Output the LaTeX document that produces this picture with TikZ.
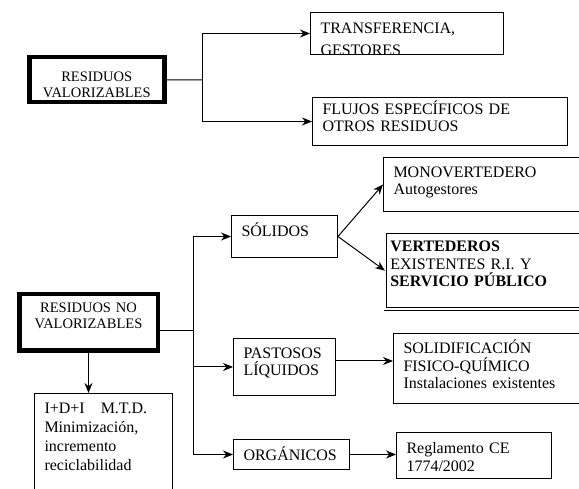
\documentclass[tikz,border=0pt]{standalone}
\usepackage{fontspec}
\setmainfont{Liberation Serif}
\usetikzlibrary{positioning,arrows.meta}

\begin{document}
\begin{tikzpicture}[x=1pt,y=-1pt,
    box/.style={draw, line width=1pt, anchor=north west, align=left,
      inner xsep=10pt, inner ysep=0pt, font=\fontsize{16}{17.5}\selectfont},
    mainbox/.style={draw, line width=4.5pt, anchor=north west, align=center,
      inner xsep=4pt, inner ysep=0pt, font=\fontsize{14.5}{16}\selectfont},
    link/.style={line width=1pt},
    arr/.style={line width=1pt, -{Stealth[length=10pt,width=8pt]}}]
    \useasboundingbox (0,0) rectangle (579,489);
    \clip (0,0) rectangle (579,489);

    % upper branch
    \node[mainbox, text width=127pt, text height=24.5pt, text depth=20.5pt] (val) at (27,55) {RESIDUOS\\ VALORIZABLES};
    \node[box, text width=173pt, text height=21pt, text depth=21pt] (tra) at (310,12) {TRANSFERENCIA,\\[5pt] GESTORES};
    \fill[white] (tra.south west) rectangle ([yshift=-8pt]tra.south east);
    \draw[link] (tra.south west) -- (tra.south east);
    \node[box, text width=235pt, text height=17pt, text depth=31pt] (flu) at (312,97) {FLUJOS ESPECÍFICOS DE\\ OTROS RESIDUOS};

    \coordinate (vsplit) at (202,80);
    \draw[link] (val.east) -- (vsplit);
    \draw[arr] (vsplit) |- (tra.west);
    \draw[arr] (vsplit) |- (flu.west);

    % lower branch
    \node[mainbox, text width=130.5pt, text height=18.75pt, text depth=37.75pt] (nval) at (17,292) {RESIDUOS NO\\ VALORIZABLES};
    \node[box, text width=86pt, text height=21pt, text depth=21pt] (sol) at (231,215) {SÓLIDOS};
    \node[box, text width=185pt, text height=20pt, text depth=34pt] (mon) at (383,157) {MONOVERTEDERO\\ Autogestores};
    \node[box, double, double distance=2pt, line width=0.6pt, inner xsep=5pt, text width=190pt, text height=19.4pt, text depth=57.4pt] (ver) at (385,232) {\textbf{VERTEDEROS}\\ EXISTENTES R.I. Y\\ \textbf{SERVICIO PÚBLICO}};
    \node[box, text width=82pt, text height=20pt, text depth=37pt] (pas) at (233,338) {PASTOSOS\\ LÍQUIDOS};
    \node[box, text width=180pt, text height=20pt, text depth=50pt] (soli) at (393,333) {SOLIDIFICACIÓN\\ FISICO-QUÍMICO\\ Instalaciones existentes};
    \node[box, text width=96pt, text height=21pt, text depth=9pt] (org) at (233,439) {ORGÁNICOS};
    \node[box, text width=135pt, text height=21pt, text depth=25pt] (reg) at (396,432) {Reglamento CE\\ 1774/2002};
    \node[box, text width=118pt, text height=20pt, text depth=92pt] (idi) at (34,393) {I+D+I\quad{}M.T.D.\\[1.5pt] Minimización,\\[1.5pt] incremento\\[1.5pt] reciclabilidad};

    \coordinate (nsplit) at (193,331);
    \draw[link] (nval.east |- nsplit) -- (nsplit);
    \draw[arr] (nsplit) |- (sol.west);
    \draw[arr] (nsplit) |- (pas.west);
    \draw[arr] (nsplit) |- (org.west);
    \draw[arr] (sol.east) -- (mon.west);
    \draw[arr] (sol.east) -- (ver.west);
    \draw[arr] ([yshift=6pt]pas.east) -- ([yshift=6pt]pas.east -| soli.west);
    \draw[arr] (org.east) -- (org.east -| reg.west);
    \draw[arr] (nval.south) -- (nval.south |- idi.north);
\end{tikzpicture}
\end{document}
